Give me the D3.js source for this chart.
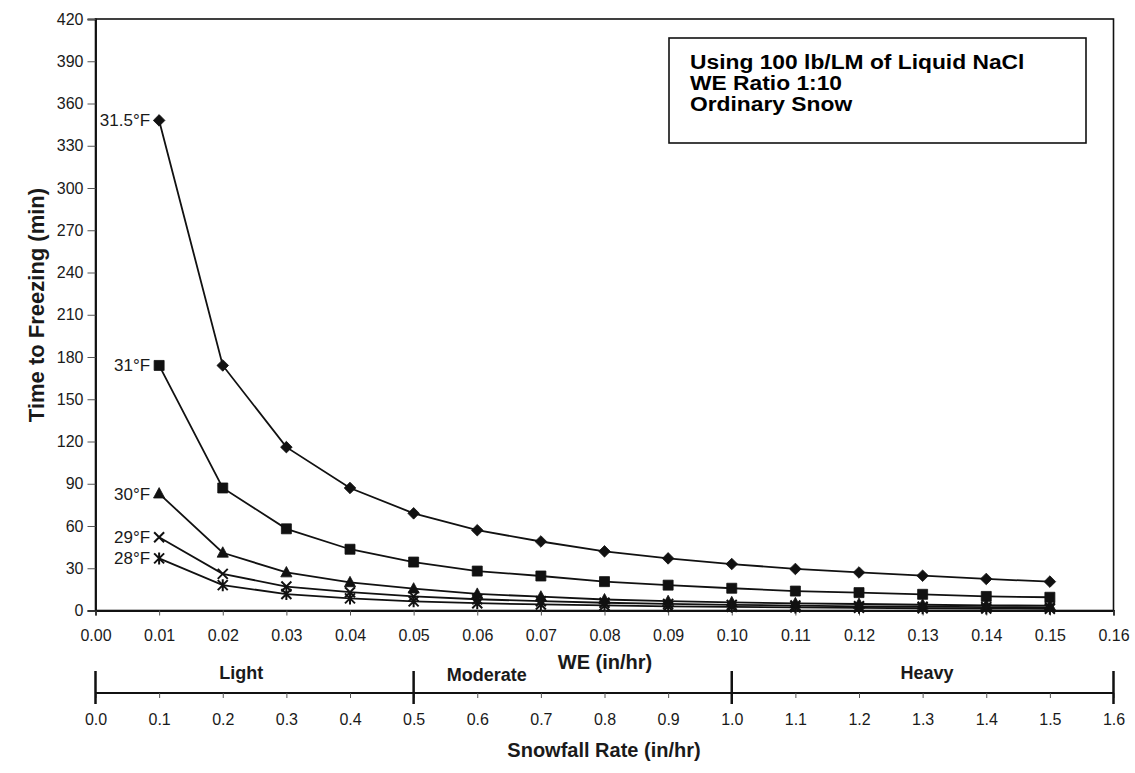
<!DOCTYPE html>
<html>
<head>
<meta charset="utf-8">
<script src="https://cdn.jsdelivr.net/npm/d3@7"></script>
<style>
  html, body { margin: 0; padding: 0; background: #fff; }
  svg { display: block; font-family: "Liberation Sans", Arial, sans-serif; }
</style>
</head>
<body>
<svg id="chart" width="1135" height="773"></svg>
<script>
// ---------------- data ----------------
const weValues = [0.01,0.02,0.03,0.04,0.05,0.06,0.07,0.08,0.09,0.10,0.11,0.12,0.13,0.14,0.15];
const series315 = [348,174,116,87,69,57,49,42,37,33,29.5,27,24.7,22.4,20.5];
const series31  = [174,87,58,43.5,34.4,28,24.5,20.5,18,15.8,13.8,12.7,11.5,10,9.4];
const series30  = [83,41,27,20,15.5,11.8,9.8,7.8,6.6,5.8,5.1,4.6,4.1,3.7,3.4];
const series29  = [52,26,17,13,10,8,6.6,5.5,4.7,4,3.5,3,2.7,2.4,2.2];
const series28  = [37,18,11.7,8.6,6.5,5.2,4.3,3.6,3,2.6,2.2,1.9,1.6,1.4,1.2];
const seriesNames = ["31.5°F","31°F","30°F","29°F","28°F"];
const seriesMarkers = ["diamond","square","triangle","x","asterisk"];
const yTicks = [0,30,60,90,120,150,180,210,240,270,300,330,360,390,420];
const weTicks = [0,0.01,0.02,0.03,0.04,0.05,0.06,0.07,0.08,0.09,0.10,0.11,0.12,0.13,0.14,0.15,0.16];
const snowTicks = [0,0.1,0.2,0.3,0.4,0.5,0.6,0.7,0.8,0.9,1.0,1.1,1.2,1.3,1.4,1.5,1.6];
const categoryBreaks = [0,0.5,1.0,1.6];
const categoryNames = ["Light","Moderate","Heavy"];
const categoryCenters = [0.229,0.615,1.307];
const noteLines = ["Using 100 lb/LM of Liquid NaCl","WE Ratio 1:10","Ordinary Snow"];

const allSeries = [series315, series31, series30, series29, series28];

// ---------------- layout ----------------
const svg = d3.select("#chart");
const plotLeft = 95.5, plotRight = 1113.5, plotTop = 19, plotBottom = 610.5;
const ink = "#111";
const textInk = "#1a1a1a";

const x = d3.scaleLinear().domain([0, 0.16]).range([plotLeft, plotRight]);
const y = d3.scaleLinear().domain([0, 420]).range([plotBottom, plotTop]);
const s = d3.scaleLinear().domain([0, 1.6]).range([plotLeft, plotRight]);

// frame
svg.append("rect")
  .attr("x", plotLeft).attr("y", plotTop)
  .attr("width", plotRight - plotLeft).attr("height", plotBottom - plotTop)
  .attr("fill", "none").attr("stroke", ink).attr("stroke-width", 1.6);

// y axis
const yAxis = svg.append("g")
  .attr("transform", `translate(${plotLeft},0)`)
  .call(d3.axisLeft(y).tickValues(yTicks).tickSize(8).tickPadding(4).tickFormat(d3.format("d")));
yAxis.select(".domain").attr("stroke", ink).attr("stroke-width", 1.9);
yAxis.selectAll(".tick line").attr("stroke", "#555").attr("stroke-width", 1);
yAxis.selectAll(".tick text").attr("font-size", 16).attr("fill", textInk)
  .attr("font-family", "Liberation Sans, Arial, sans-serif");

// x axis (WE)
const xAxis = svg.append("g")
  .attr("transform", `translate(0,${plotBottom})`)
  .call(d3.axisBottom(x).tickValues(weTicks).tickSize(5).tickPadding(14).tickFormat(d3.format(".2f")));
xAxis.select(".domain").attr("stroke", ink).attr("stroke-width", 1.9);
xAxis.selectAll(".tick line").attr("stroke", "#555").attr("stroke-width", 1);
xAxis.selectAll(".tick text").attr("font-size", 16).attr("fill", textInk)
  .attr("font-family", "Liberation Sans, Arial, sans-serif");

// second axis (snowfall rate)
const axis2Y = 693;
const sAxis = svg.append("g")
  .attr("transform", `translate(0,${axis2Y})`)
  .call(d3.axisBottom(s).tickValues(snowTicks).tickSize(5).tickPadding(16).tickFormat(d3.format(".1f")));
sAxis.select(".domain").attr("stroke", ink).attr("stroke-width", 1.9).attr("d", `M${plotLeft},0H${plotRight}`);
sAxis.selectAll(".tick line").attr("stroke", "#555").attr("stroke-width", 1);
sAxis.selectAll(".tick text").attr("font-size", 16).attr("fill", textInk)
  .attr("font-family", "Liberation Sans, Arial, sans-serif");

// category break ticks
svg.append("g").selectAll("line").data(categoryBreaks).join("line")
  .attr("x1", d => s(d)).attr("x2", d => s(d))
  .attr("y1", axis2Y - 22).attr("y2", axis2Y + 11)
  .attr("stroke", ink).attr("stroke-width", 2.5);

// category labels
const catBase = [679, 681, 679];
svg.append("g").selectAll("text").data(categoryNames).join("text")
  .attr("x", (d, i) => s(categoryCenters[i]))
  .attr("y", (d, i) => catBase[i])
  .attr("text-anchor", "middle")
  .attr("font-size", 18).attr("font-weight", "bold").attr("fill", textInk)
  .text(d => d);

// axis titles
svg.append("text")
  .attr("x", 605).attr("y", 669)
  .attr("text-anchor", "middle").attr("font-size", 20).attr("font-weight", "bold").attr("fill", textInk)
  .text("WE (in/hr)");
svg.append("text")
  .attr("x", 604).attr("y", 757)
  .attr("text-anchor", "middle").attr("font-size", 20).attr("font-weight", "bold").attr("fill", textInk)
  .text("Snowfall Rate (in/hr)");
svg.append("text")
  .attr("transform", "translate(36,305) rotate(-90)")
  .attr("dy", "0.36em")
  .attr("text-anchor", "middle").attr("font-size", 22).attr("font-weight", "bold").attr("fill", textInk)
  .text("Time to Freezing (min)");

// lines
const line = d3.line().x((d, i) => x(weValues[i])).y(d => y(d));
svg.append("g").selectAll("path").data(allSeries).join("path")
  .attr("d", d => line(d))
  .attr("fill", "none").attr("stroke", ink).attr("stroke-width", 1.8);

// markers
function markerPath(type) {
  switch (type) {
    case "diamond": return "M0,-5.8L5.8,0L0,5.8L-5.8,0Z";
    case "square": return "M-5,-5H5V5H-5Z";
    case "triangle": return "M0,-6L5.6,4.4H-5.6Z";
    case "x": return "M-5,-5L5,5M5,-5L-5,5";
    case "asterisk": return "M-5,-5L5,5M5,-5L-5,5M0,-6V6";
  }
}
allSeries.forEach((ser, si) => {
  const type = seriesMarkers[si];
  const stroked = (type === "x" || type === "asterisk");
  svg.append("g").selectAll("path").data(ser).join("path")
    .attr("transform", (d, i) => `translate(${x(weValues[i])},${y(d)})`)
    .attr("d", markerPath(type))
    .attr("fill", stroked ? "none" : ink)
    .attr("stroke", ink)
    .attr("stroke-width", stroked ? 2 : 0.8);
});

// series labels
svg.append("g").selectAll("text").data(seriesNames).join("text")
  .attr("x", x(weValues[0]) - 9)
  .attr("y", (d, i) => y(allSeries[i][0]))
  .attr("dy", "0.35em")
  .attr("text-anchor", "end")
  .attr("font-size", 17).attr("fill", textInk)
  .text(d => d);

// note box
svg.append("rect")
  .attr("x", 669).attr("y", 38).attr("width", 417).attr("height", 105)
  .attr("fill", "#fff").attr("stroke", ink).attr("stroke-width", 1.6);
const noteTexts = svg.append("g").selectAll("text").data(noteLines).join("text")
  .attr("x", 690).attr("y", (d, i) => 69 + i * 21)
  .attr("font-size", 20).attr("font-weight", "bold").attr("fill", "#000")
  .text(d => d);
// the scanned note text is slightly wider than its height suggests
noteTexts.each(function () {
  const w = this.getComputedTextLength();
  d3.select(this).attr("textLength", w * 1.14).attr("lengthAdjust", "spacingAndGlyphs");
});
</script>
</body>
</html>
